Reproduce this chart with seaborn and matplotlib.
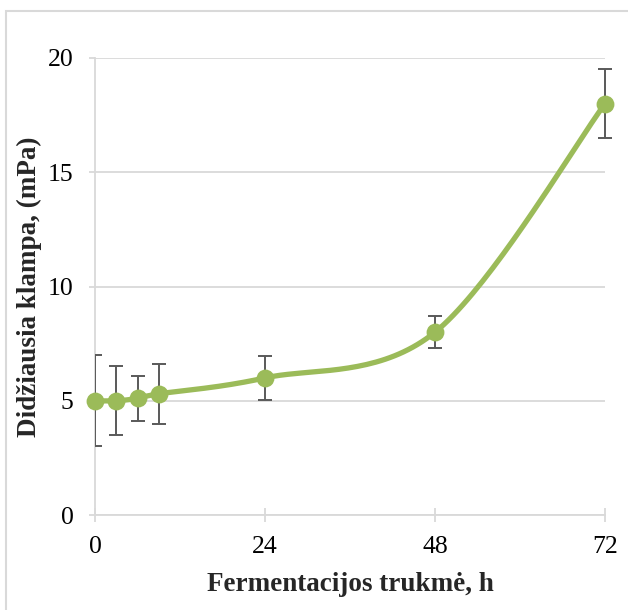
import numpy as np
import pandas as pd
import matplotlib
matplotlib.use("Agg")
import matplotlib.pyplot as plt
from matplotlib.patches import Rectangle
import seaborn as sns

# Fermentation time (h), max viscosity (mPa) and standard deviation
hours = [0, 3, 6, 9, 24, 48, 72]
viscosity = [5.0, 5.0, 5.1, 5.3, 6.0, 8.0, 18.0]
viscosity_sd = [2.0, 1.5, 1.0, 1.3, 0.95, 0.7, 1.5]
x_ticks = [0, 24, 48, 72]
y_ticks = [0, 5, 10, 15, 20]

GREEN = "#9BBB59"
GRID = "#D9D9D9"
BAR = "#595959"

sns.set_theme(style="white")
plt.rcParams["font.family"] = ["Liberation Serif", "DejaVu Serif"]


def smooth_curve(xs, ys, n=40):
    """Bezier smoothing through every point (Catmull-Rom style control points)."""
    p = np.column_stack([xs, ys]).astype(float)
    ext = np.vstack([p[0], p, p[-1]])
    out = []
    t = np.linspace(0, 1, n)[:, None]
    for i in range(len(p) - 1):
        p0, p1, p2, p3 = ext[i], ext[i + 1], ext[i + 2], ext[i + 3]
        c1 = p1 + (p2 - p0) / 6.0
        c2 = p2 - (p3 - p1) / 6.0
        seg = ((1 - t) ** 3) * p1 + 3 * ((1 - t) ** 2) * t * c1 \
            + 3 * (1 - t) * t ** 2 * c2 + t ** 3 * p2
        out.append(seg if i == 0 else seg[1:])
    out = np.vstack(out)
    return out[:, 0], out[:, 1]


df = pd.DataFrame({"hours": hours, "viscosity": viscosity, "sd": viscosity_sd})
sx, sy = smooth_curve(df["hours"].values, df["viscosity"].values)
curve = pd.DataFrame({"hours": sx, "viscosity": sy})

fig = plt.figure(figsize=(6.28, 6.10), dpi=100)
ax = fig.add_axes([95 / 628, 95 / 610, 510 / 628, 457 / 610])

eb = ax.errorbar(df["hours"], df["viscosity"], yerr=df["sd"], fmt="none",
                 ecolor=BAR, elinewidth=1.4, capsize=5, capthick=1.4, zorder=3)
# Error bars are cut at the vertical axis only
clip_box = Rectangle((0, -5), 100, 40, transform=ax.transData)
for child in eb.get_children():
    child.set_clip_path(clip_box)

sns.lineplot(data=curve, x="hours", y="viscosity", sort=False, ax=ax,
             color=GREEN, linewidth=3.8, zorder=3.5)
sns.scatterplot(data=df, x="hours", y="viscosity", ax=ax, color=GREEN,
                s=165, edgecolor=GREEN, linewidth=0, zorder=4, clip_on=False)

ax.set_xlim(0, 72)
ax.set_ylim(0, 20)
ax.set_xticks(x_ticks)
ax.set_yticks(y_ticks)
ax.yaxis.grid(True, color=GRID, linewidth=1.3)
ax.xaxis.grid(False)
ax.set_axisbelow(True)

for side in ["top", "right"]:
    ax.spines[side].set_visible(False)
for side in ["left", "bottom"]:
    ax.spines[side].set_color(GRID)
    ax.spines[side].set_linewidth(1.3)
    ax.spines[side].set_zorder(1.5)

ax.tick_params(axis="y", which="major", direction="out", length=4.5,
               width=1.3, color=GRID, labelsize=18.5, pad=11, labelcolor="black",
               left=True)
ax.tick_params(axis="x", which="major", direction="inout", length=10,
               width=1.3, color=GRID, labelsize=18.5, pad=10, labelcolor="black",
               bottom=True)

ax.set_xlabel("Fermentacijos trukmė, h", fontsize=19.5, fontweight="bold",
              labelpad=10)
ax.set_ylabel("Didžiausia klampa, (mPa)", fontsize=19.5, fontweight="bold",
              labelpad=4)

# Outer chart frame
fig.patches.append(Rectangle((6 / 628, -0.1), 1.2, (610 - 11) / 610 + 0.1,
                             transform=fig.transFigure, fill=False,
                             edgecolor=GRID, linewidth=1.5, zorder=0))

fig.savefig("out.png", dpi=100)
